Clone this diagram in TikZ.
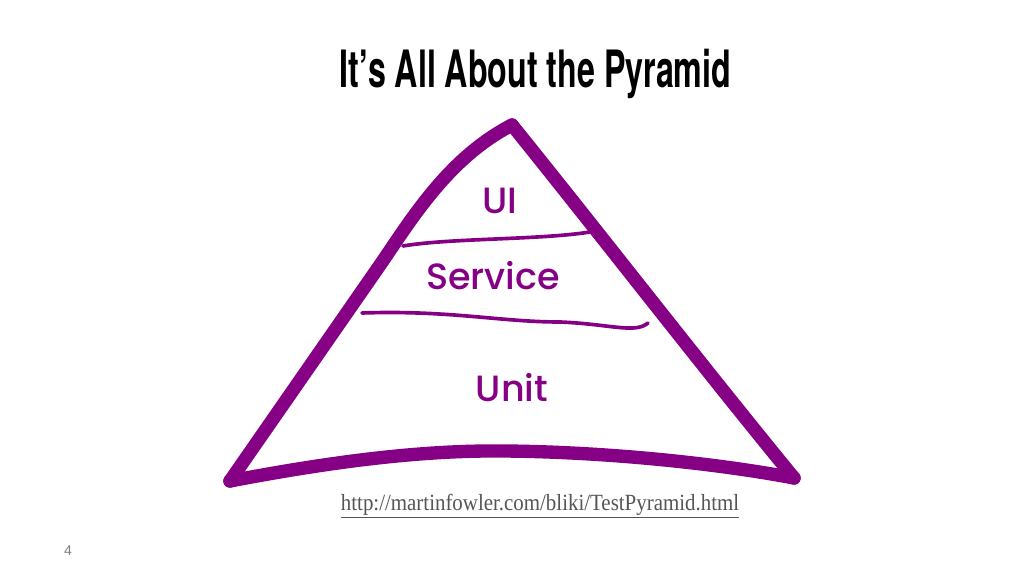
\documentclass[tikz,border=0pt]{standalone}
\usepackage{fontspec}
\usepackage{graphicx}
\usepackage{tikz}
\setmainfont{Liberation Serif}
\newfontfamily\titlefont{TeX Gyre Heros}
\newfontfamily\handfont{Poppins Medium}
\newfontfamily\numfont{Liberation Sans}
\definecolor{pyrpurple}{RGB}{134,0,134}
\definecolor{urlgray}{RGB}{85,85,85}
\definecolor{pagegray}{RGB}{125,125,125}

\begin{document}
\begin{tikzpicture}[x=0.025cm,y=-0.025cm,
  outline/.style={pyrpurple,line width=9.5pt,line cap=round,line join=round},
  layer/.style={pyrpurple,line width=2.6pt,line cap=round},
  tier/.style={text=pyrpurple,font=\handfont\fontsize{26}{30}\selectfont}]
\useasboundingbox (0,0) rectangle (1024,576);

\node[anchor=base] (title) at (535.5,88) {\resizebox{9.78cm}{\height}{\titlefont\bfseries\fontsize{36.6}{40}\selectfont It’s All About the Pyramid}};

\coordinate (top) at (512,125); \coordinate (bl) at (230,481); \coordinate (br) at (794,478);
\coordinate (lmid) at (380,265); \coordinate (bmid) at (505,451);

% pyramid outline
\draw[outline] (bl) -- (lmid) .. controls (411,220) and (448,158) .. (top);
\draw[outline] (top) .. controls (600,234) and (702,366) .. (br);
\draw[outline] (bl) .. controls (330,462) and (420,450) .. (bmid) .. controls (610,452) and (720,464) .. (br);

% layer lines
\coordinate (ua) at (403,246); \coordinate (ub) at (590,232);
\coordinate (sa) at (362,313); \coordinate (sb) at (648,323);
\draw[layer] (ua) .. controls (450,238) and (540,240) .. (ub);
\draw[layer] (sa) .. controls (450,310) and (500,322) .. (560,322) .. controls (610,324) and (635,334) .. (sb);

\node[tier] (ui) at (500,201) {UI};
\node[tier] (service) at (493,276) {Service};
\node[tier] (unit) at (512,388) {Unit};

\node[anchor=base,text=urlgray] (url) at (540,510) {\resizebox{9.95cm}{\height}{\fontsize{16.5}{19}\selectfont\underline{http://martinfowler.com/bliki/TestPyramid.html}}};

\node[anchor=base,text=pagegray,font=\numfont\fontsize{10}{12}\selectfont] (page) at (68,555) {4};
\end{tikzpicture}
\end{document}
